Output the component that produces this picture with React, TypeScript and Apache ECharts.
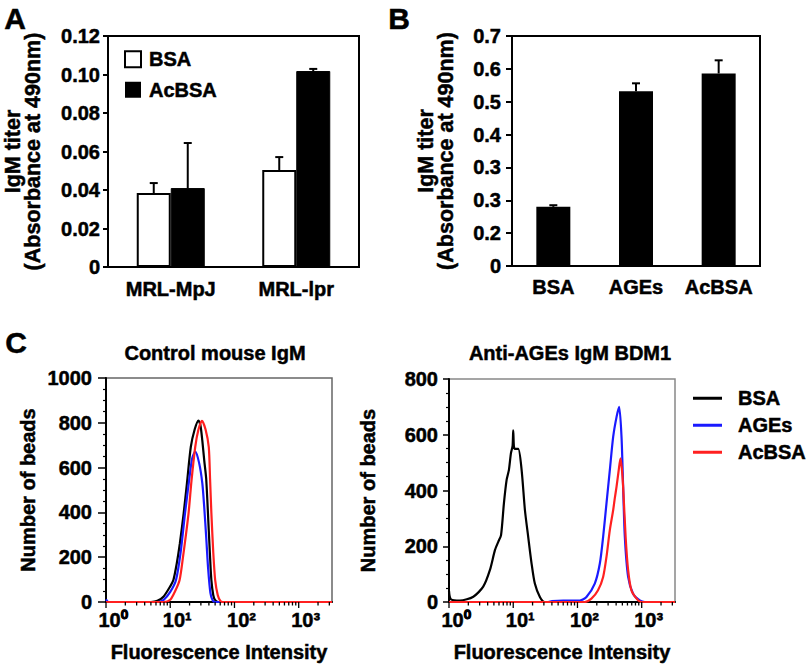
import React, { useEffect, useRef } from 'react';
import * as echarts from 'echarts';

// ---------- Panel A ----------
const strainCategories = ['MRL-MpJ', 'MRL-lpr'];
const bsaTiter = [0.0384, 0.0504];
const bsaTiterErr = [0.0052, 0.0067];
const acbsaTiter = [0.041, 0.1018];
const acbsaTiterErr = [0.0234, 0.0011];

// ---------- Panel B ----------
const antigenCategories = ['BSA', 'AGEs', 'AcBSA'];
const antigenTiter = [0.18, 0.532, 0.586];
const antigenTiterErr = [0.005, 0.024, 0.04];
const bTickLabels = ['0', '0.2', '0.3', '0.3', '0.4', '0.5', '0.6', '0.7'];

// ---------- Panel C (fluorescence intensity, number of beads) ----------
const ctrlBsa = [[1, 0], [5, 0], [6.3, 5], [7.9, 25], [10, 70], [11.2, 98], [12.6, 170], [14.1, 260], [16.2, 397], [18.2, 530], [20.9, 692], [24, 770], [27.5, 810], [29.5, 790], [31.6, 720], [33.9, 630], [36.3, 550], [39.8, 320], [41.7, 200], [43.7, 98], [46.8, 30], [50.1, 8], [56, 0], [3300, 0]];
const ctrlAges = [[1, 12], [1.1, 0], [6.3, 0], [7.9, 10], [10, 45], [12.3, 98], [14.5, 220], [17, 397], [20, 560], [21.9, 640], [24.5, 671], [28.2, 620], [31.6, 530], [33.9, 420], [36.3, 290], [38.9, 150], [42.2, 41], [45.7, 8], [50.1, 0], [3300, 0]];
const ctrlAcbsa = [[1, 0], [7.9, 0], [10, 10], [12, 50], [14, 98], [15.8, 200], [19.3, 397], [21.4, 540], [24.5, 692], [27.5, 770], [31.2, 809], [35.5, 770], [39.8, 692], [41.7, 550], [43.7, 397], [46.8, 220], [50.1, 98], [55, 30], [60.3, 5], [66, 0], [3300, 0]];

const bdmBsa = [[1, 40], [1.07, 10], [1.48, 5], [2.39, 19], [3.41, 55], [4.34, 115], [5.19, 186], [5.85, 216], [6.46, 240], [7.16, 354], [7.89, 438], [8.57, 474], [9.2, 533], [9.77, 560], [10, 616], [10.23, 560], [10.6, 549], [11.97, 549], [13.5, 474], [15.2, 330], [17.1, 234], [19.3, 138], [21.7, 66], [26, 18], [30.9, 0], [3300, 0]];
const bdmAges = [[1, 0], [35, 0], [40, 3], [60, 5], [100, 5], [109, 5], [138, 18], [186, 66], [223, 138], [251, 234], [283, 354], [319, 473], [360, 593], [407, 665], [446, 700], [485, 593], [514, 414], [546, 234], [615, 90], [735, 30], [933, 6], [1122, 0], [3300, 0]];
const bdmAcbsa = [[1, 0], [130, 0], [165, 12], [209, 42], [251, 90], [283, 162], [319, 258], [360, 330], [380, 370], [406, 414], [437, 470], [468, 515], [490, 480], [514, 414], [562, 234], [615, 114], [692, 42], [879, 6], [1000, 0], [3300, 0]];

const logMajor = [1, 10, 100, 1000];
const logMinor = [2, 3, 4, 5, 6, 7, 8, 9, 20, 30, 40, 50, 60, 70, 80, 90, 200, 300, 400, 500, 600, 700, 800, 900, 2000, 3000];
const supers: Record<string, string> = { '0': '⁰', '1': '¹', '2': '²', '3': '³' };

const FONT = 'Liberation Sans';
const bold = { color: '#000', fontWeight: 'bold' as const, fontFamily: FONT, textBorderColor: '#000', textBorderWidth: 0.5 };

function errRender(offset: number) {
  return (params: any, api: any) => {
    const x = api.value(0);
    const v = api.value(1);
    const e = api.value(2);
    const base = api.coord([x, v]);
    const top = api.coord([x, v + e]);
    const cx = base[0] + offset;
    return {
      type: 'group',
      children: [
        { type: 'line', shape: { x1: cx, y1: base[1], x2: cx, y2: top[1] }, style: { stroke: '#000', lineWidth: 2 } },
        { type: 'line', shape: { x1: cx - 4, y1: top[1], x2: cx + 4, y2: top[1] }, style: { stroke: '#000', lineWidth: 2 } },
      ],
    };
  };
}

// tick marks below a log x axis, placed through the axis scale
function tickSeries(values: number[], len: number, xIdx: number, yIdx: number) {
  return {
    type: 'custom', name: 'ticks', xAxisIndex: xIdx, yAxisIndex: yIdx, z: 4, silent: true, clip: false,
    encode: { x: 0, y: 1 },
    data: values.map((v) => [v, 0]),
    renderItem: (params: any, api: any) => {
      const p = api.coord([api.value(0), 0]);
      return { type: 'line', shape: { x1: p[0], y1: p[1], x2: p[0], y2: p[1] + len }, style: { stroke: '#000', lineWidth: 1.3 } };
    },
  };
}

function logX(gridIndex: number) {
  return {
    gridIndex, type: 'log', logBase: 10, min: 1, max: 3300, position: 'bottom',
    axisLine: { show: true, onZero: false, lineStyle: { color: '#000', width: 2 } },
    axisTick: { show: false },
    axisLabel: {
      show: true, customValues: logMajor, margin: 8, fontSize: 20, padding: [0, 0, 0, 14], ...bold,
      formatter: (v: number) => '10' + (supers[String(Math.round(Math.log10(v)))] || ''),
    },
    splitLine: { show: false },
    name: 'Fluorescence Intensity', nameLocation: 'middle', nameGap: 40, nameMoveOverlap: false,
    nameTextStyle: { fontSize: 20, ...bold },
  };
}

function countY(gridIndex: number, max: number, margin: number, nameGap: number, tickLen: number) {
  return {
    gridIndex, type: 'value', min: 0, max, interval: 200,
    axisLine: { show: true, onZero: false, lineStyle: { color: '#000', width: 2 } },
    axisTick: { show: true, length: tickLen, lineStyle: { color: '#000', width: 1.5 } },
    minorTick: { show: true, splitNumber: 4, length: 3, lineStyle: { color: '#000', width: 1.2 } },
    axisLabel: { margin, fontSize: 20, ...bold, formatter: (v: number) => String(v) },
    splitLine: { show: false },
    name: 'Number of beads', nameLocation: 'middle', nameGap, nameRotate: 90, nameMoveOverlap: false,
    nameTextStyle: { fontSize: 20, ...bold },
  };
}

function lineSeries(name: string, data: number[][], color: string, axisIdx: number, yIdx: number) {
  return {
    type: 'line', name, data, xAxisIndex: axisIdx, yAxisIndex: yIdx, symbol: 'none', smooth: 0.25,
    lineStyle: { color, width: 2.2 }, itemStyle: { color }, z: 3,
  };
}

export default function App() {
  const ref = useRef<HTMLDivElement>(null);
  useEffect(() => {
    if (!ref.current) return;
    const chart = echarts.init(ref.current, undefined, { renderer: 'svg' });
    const titleName = 'IgM titer\n(Absorbance at 490nm)';
    const txt = (t: string, x: number, y: number, size: number) => ({
      type: 'text', x, y,
      style: {
        text: t, fontSize: size, fontWeight: 'bold', fontFamily: FONT, fill: '#000', stroke: '#000', lineWidth: 0.5,
        align: 'center', verticalAlign: 'middle',
      },
    });
    const option: any = {
      animation: false,
      backgroundColor: '#fff',
      textStyle: { fontFamily: FONT },
      grid: [
        { left: 108, top: 36, width: 251, height: 231, show: true, borderColor: '#000', borderWidth: 2, outerBoundsMode: 'none' },
        { left: 512, top: 36, width: 248, height: 230, show: true, borderColor: '#000', borderWidth: 2, outerBoundsMode: 'none' },
        { left: 106, top: 378, width: 226, height: 224, show: true, borderColor: '#666', borderWidth: 1.5, outerBoundsMode: 'none' },
        { left: 449, top: 379, width: 226, height: 223, show: true, borderColor: '#888', borderWidth: 1.5, outerBoundsMode: 'none' },
      ],
      xAxis: [
        {
          gridIndex: 0, type: 'category', data: strainCategories,
          axisLine: { lineStyle: { color: '#000', width: 2 } }, axisTick: { show: false },
          axisLabel: { interval: 0, margin: 12, fontSize: 20, ...bold },
        },
        {
          gridIndex: 1, type: 'category', data: antigenCategories,
          axisLine: { lineStyle: { color: '#000', width: 2 } }, axisTick: { show: false },
          axisLabel: { interval: 0, margin: 11, fontSize: 20, ...bold },
        },
        logX(2),
        logX(3),
      ],
      yAxis: [
        {
          gridIndex: 0, type: 'value', min: 0, max: 0.12, interval: 0.02,
          axisLine: { show: true, lineStyle: { color: '#000', width: 2 } },
          axisTick: { show: true, length: 5, lineStyle: { color: '#000', width: 2 } },
          splitLine: { show: false },
          axisLabel: { margin: 8, fontSize: 20, ...bold, formatter: (v: number) => (v === 0 ? '0' : v.toFixed(2)) },
          name: titleName, nameLocation: 'middle', nameGap: 65, nameRotate: 90, nameMoveOverlap: false,
          nameTextStyle: { fontSize: 21.5, lineHeight: 20, ...bold },
        },
        {
          gridIndex: 1, type: 'value', min: 0, max: 0.7, interval: 0.1,
          axisLine: { show: true, lineStyle: { color: '#000', width: 2 } },
          axisTick: { show: true, length: 6, lineStyle: { color: '#000', width: 2 } },
          splitLine: { show: false },
          axisLabel: { margin: 11, fontSize: 20, ...bold, formatter: (v: number) => bTickLabels[Math.round(v * 10)] },
          name: titleName, nameLocation: 'middle', nameGap: 56, nameRotate: 90, nameMoveOverlap: false,
          nameTextStyle: { fontSize: 21.5, lineHeight: 20, ...bold },
        },
        countY(2, 1000, 14, 68, 8),
        countY(3, 800, 11, 71, 6),
      ],
      legend: [
        {
          left: 124, top: 49, padding: 0, orient: 'vertical', itemGap: 10, itemWidth: 16, itemHeight: 16, icon: 'rect',
          selectedMode: false,
          textStyle: { fontSize: 20, lineHeight: 18, padding: [0, 0, 0, 3], ...bold },
          data: [
            { name: 'BSA', itemStyle: { color: '#fff', borderColor: '#000', borderWidth: 2 } },
            { name: 'AcBSA', itemStyle: { color: '#000', borderColor: '#000', borderWidth: 0 } },
          ],
        },
        {
          left: 693, top: 388, padding: 0, orient: 'vertical', itemGap: 6.5, itemWidth: 29, itemHeight: 3, icon: 'rect',
          selectedMode: false,
          textStyle: { fontSize: 20, lineHeight: 20, padding: [0, 0, 0, 11], ...bold },
          formatter: (n: string) => n.replace('C-', ''),
          data: ['C-BSA', 'C-AGEs', 'C-AcBSA'],
        },
      ],
      graphic: [
        txt('A', 15, 18, 30),
        txt('B', 399, 18, 30),
        txt('C', 16, 342, 30),
        txt('Control mouse IgM', 215, 353, 20),
        txt('Anti-AGEs IgM BDM1', 570, 353, 20),
      ],
      series: [
        {
          type: 'bar', name: 'BSA', xAxisIndex: 0, yAxisIndex: 0, data: bsaTiter, barWidth: 34, barGap: '0%',
          itemStyle: { color: '#fff', borderColor: '#000', borderWidth: 2 },
        },
        {
          type: 'bar', name: 'AcBSA', xAxisIndex: 0, yAxisIndex: 0, data: acbsaTiter, barWidth: 34, barGap: '0%',
          itemStyle: { color: '#000', borderColor: '#000', borderWidth: 1 },
        },
        {
          type: 'custom', name: 'BSA error', xAxisIndex: 0, yAxisIndex: 0, z: 5,
          renderItem: errRender(-17), encode: { x: 0, y: 1 },
          data: bsaTiter.map((v, i) => [i, v, bsaTiterErr[i]]),
        },
        {
          type: 'custom', name: 'AcBSA error', xAxisIndex: 0, yAxisIndex: 0, z: 5,
          renderItem: errRender(17), encode: { x: 0, y: 1 },
          data: acbsaTiter.map((v, i) => [i, v, acbsaTiterErr[i]]),
        },
        {
          type: 'bar', name: 'IgM titer', xAxisIndex: 1, yAxisIndex: 1, data: antigenTiter, barWidth: 34,
          itemStyle: { color: '#000' },
        },
        {
          type: 'custom', name: 'IgM titer error', xAxisIndex: 1, yAxisIndex: 1, z: 5,
          renderItem: errRender(0), encode: { x: 0, y: 1 },
          data: antigenTiter.map((v, i) => [i, v, antigenTiterErr[i]]),
        },
        lineSeries('C-BSA', ctrlBsa, '#000', 2, 2),
        lineSeries('C-AGEs', ctrlAges, '#1a1aff', 2, 2),
        lineSeries('C-AcBSA', ctrlAcbsa, '#ff2020', 2, 2),
        lineSeries('C-BSA', bdmBsa, '#000', 3, 3),
        lineSeries('C-AGEs', bdmAges, '#1a1aff', 3, 3),
        lineSeries('C-AcBSA', bdmAcbsa, '#ff2020', 3, 3),
        tickSeries(logMajor, 6, 2, 2),
        tickSeries(logMinor, 3.5, 2, 2),
        tickSeries(logMajor, 6, 3, 3),
        tickSeries(logMinor, 3.5, 3, 3),
      ],
    };
    chart.setOption(option);
    return () => chart.dispose();
  }, []);
  return <div ref={ref} style={{ position: 'absolute', left: 0, top: 0, width: 812, height: 669, background: '#fff' }} />;
}
